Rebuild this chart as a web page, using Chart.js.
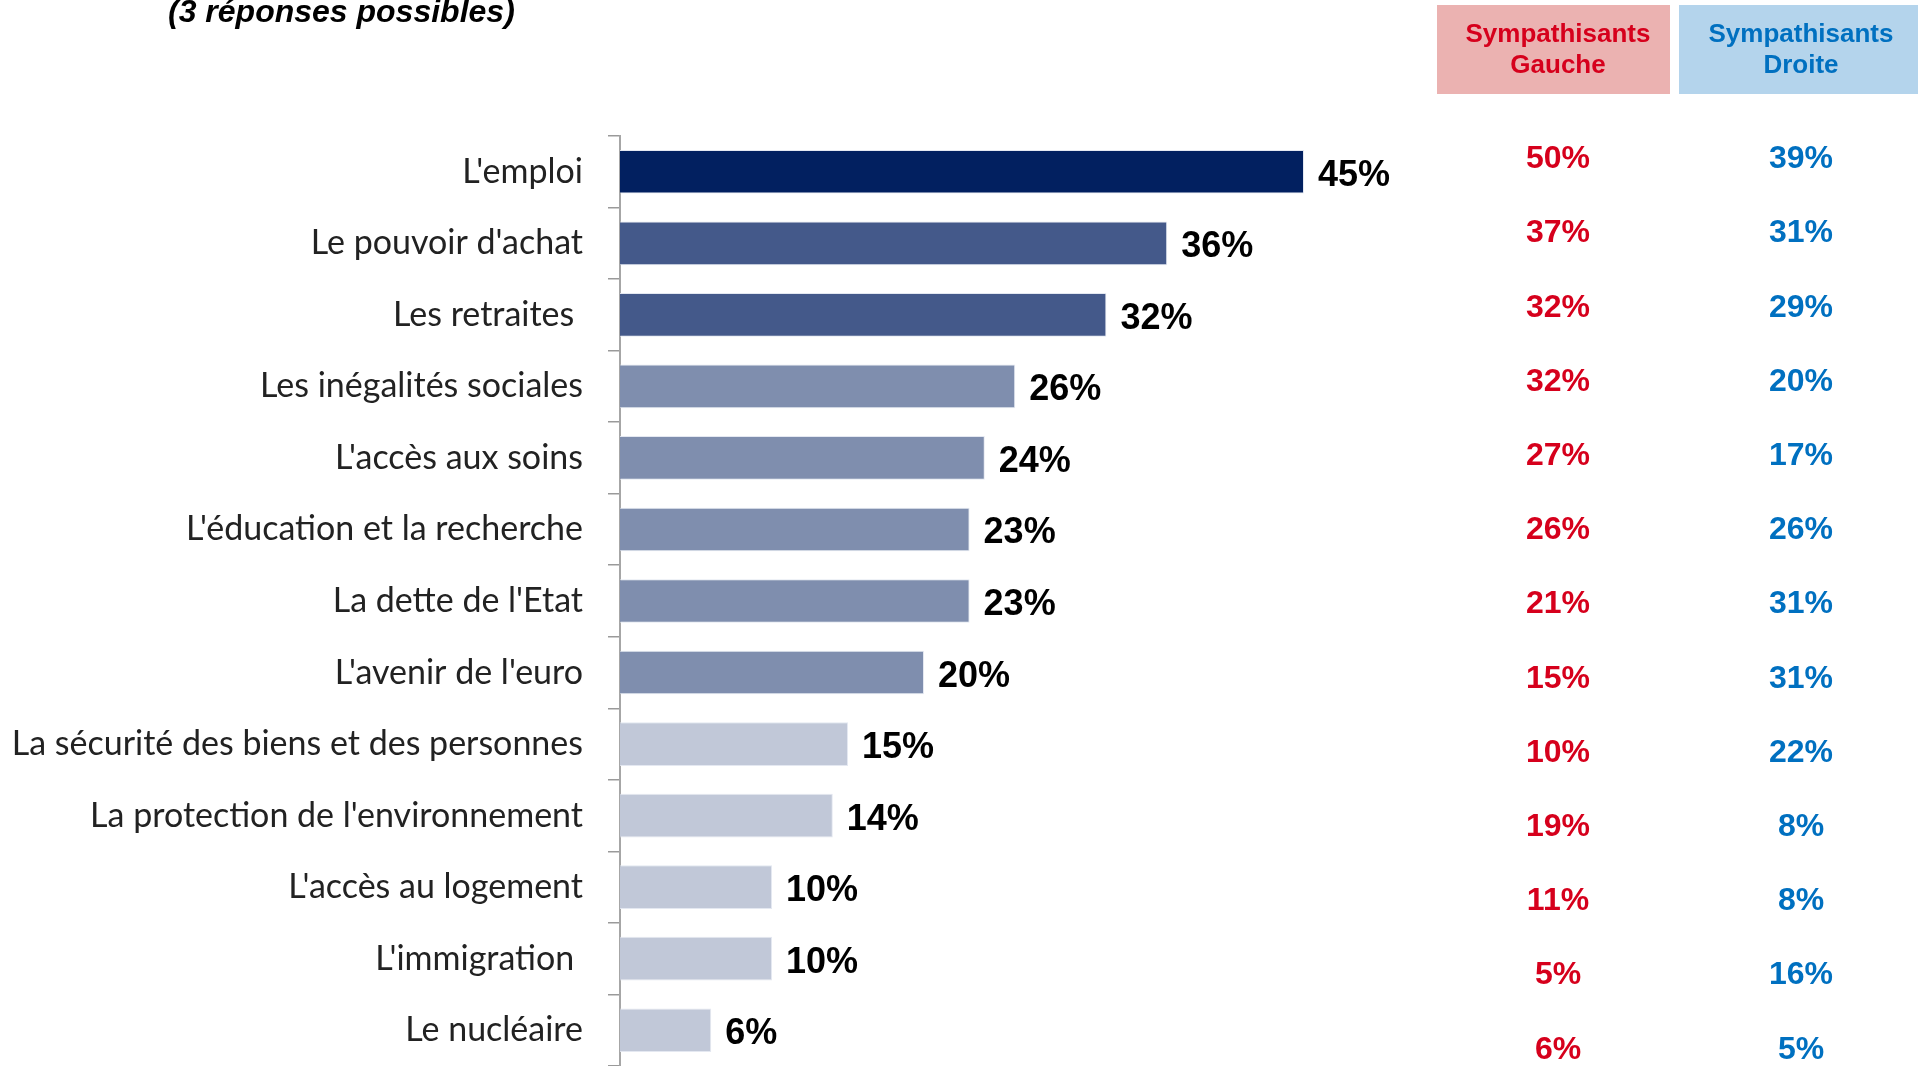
<!DOCTYPE html>
<html lang="fr">
<head>
<meta charset="utf-8">
<title>Les priorités</title>
<script src="https://cdn.jsdelivr.net/npm/chart.js@4.4.1/dist/chart.umd.min.js"></script>
<style>
    html, body { margin: 0; padding: 0; background: #fff; }
    #zone { width: 1918px; height: 1066px; }
</style>
</head>
<body>
<div id="zone"><canvas id="graphique" width="1918" height="1066"></canvas></div>
<script>
// Données
const themes = [
    "L'emploi",
    "Le pouvoir d'achat",
    "Les retraites ",
    "Les inégalités sociales",
    "L'accès aux soins",
    "L'éducation et la recherche",
    "La dette de l'Etat",
    "L'avenir de l'euro",
    "La sécurité des biens et des personnes",
    "La protection de l'environnement",
    "L'accès au logement",
    "L'immigration ",
    "Le nucléaire"
];
const ensemble = [45, 36, 32, 26, 24, 23, 23, 20, 15, 14, 10, 10, 6];
const gauche = [50, 37, 32, 32, 27, 26, 21, 15, 10, 19, 11, 5, 6];
const droite = [39, 31, 29, 20, 17, 26, 31, 31, 22, 8, 8, 16, 5];

// Couleurs des barres
const couleurs = [
    '#022060', '#44598A', '#44598A',
    '#7F8EAE', '#7F8EAE', '#7F8EAE', '#7F8EAE', '#7F8EAE',
    '#C1C8D8', '#C1C8D8', '#C1C8D8', '#C1C8D8', '#C1C8D8'
];

const arial = '"Liberation Sans", Arial, sans-serif';

// Pourcentages au bout des barres
const etiquettes = {
    id: 'etiquettes',
    afterDatasetsDraw(chart) {
        const ctx = chart.ctx;
        ctx.save();
        ctx.font = 'bold 36px ' + arial;
        ctx.fillStyle = '#000';
        ctx.textAlign = 'left';
        ctx.textBaseline = 'alphabetic';
        chart.getDatasetMeta(0).data.forEach((barre, i) => {
            ctx.fillText(ensemble[i] + '%', barre.x + 14, barre.y + 14);
        });
        ctx.restore();
    }
};

// Titre et colonnes Gauche / Droite
const tableau = {
    id: 'tableau',
    afterDraw(chart) {
        const ctx = chart.ctx;
        ctx.save();
        ctx.fillStyle = '#000';
        ctx.textAlign = 'left';
        ctx.textBaseline = 'alphabetic';
        ctx.font = 'italic bold 32px ' + arial;
        ctx.fillText('(3 réponses possibles)', 168, 22);

        const colonnes = [
            { x: 1437, w: 233, centre: 1558, fond: '#EBB2B1', texte: '#D6001C', titre: ['Sympathisants', 'Gauche'], valeurs: gauche },
            { x: 1679, w: 239, centre: 1801, fond: '#B4D4EC', texte: '#0070C0', titre: ['Sympathisants', 'Droite'], valeurs: droite }
        ];
        colonnes.forEach(col => {
            ctx.fillStyle = col.fond;
            ctx.fillRect(col.x, 5, col.w, 89);
            ctx.fillStyle = col.texte;
            ctx.textAlign = 'center';
            ctx.font = 'bold 26px ' + arial;
            ctx.fillText(col.titre[0], col.centre, 41.5);
            ctx.fillText(col.titre[1], col.centre, 72.5);
            ctx.font = 'bold 32px ' + arial;
            col.valeurs.forEach((v, i) => {
                ctx.fillText(v + '%', col.centre, 156.6 + i * 74.2 + 11.5);
            });
        });
        ctx.restore();
    }
};

const ctx = document.getElementById('graphique').getContext('2d');
new Chart(ctx, {
    type: 'bar',
    data: {
        labels: themes,
        datasets: [{
            data: ensemble,
            backgroundColor: couleurs,
            borderColor: 'rgba(225, 230, 240, 0.9)',
            borderWidth: 1,
            barPercentage: 0.61,
            categoryPercentage: 1
        }]
    },
    options: {
        indexAxis: 'y',
        responsive: false,
        animation: false,
        layout: {
            padding: { top: 136, right: 386, bottom: 0, left: 0 }
        },
        scales: {
            x: {
                display: false,
                min: 0,
                max: 60
            },
            y: {
                offset: true,
                grid: {
                    offset: true,
                    drawOnChartArea: false,
                    drawTicks: true,
                    tickLength: 12,
                    color: '#9A9A9A',
                    lineWidth: 1.5
                },
                border: { color: '#A6A6A6', width: 2 },
                ticks: {
                    font: { family: 'Lato', size: 34 },
                    color: '#222',
                    padding: 25
                },
                afterFit(scale) {
                    // largeur fixe et pas de marge haute/basse pour les libellés
                    scale.width = 620;
                    scale.paddingTop = 0;
                    scale.paddingBottom = 0;
                }
            }
        },
        plugins: {
            legend: { display: false },
            tooltip: { enabled: false }
        }
    },
    plugins: [etiquettes, tableau]
});
</script>
</body>
</html>
